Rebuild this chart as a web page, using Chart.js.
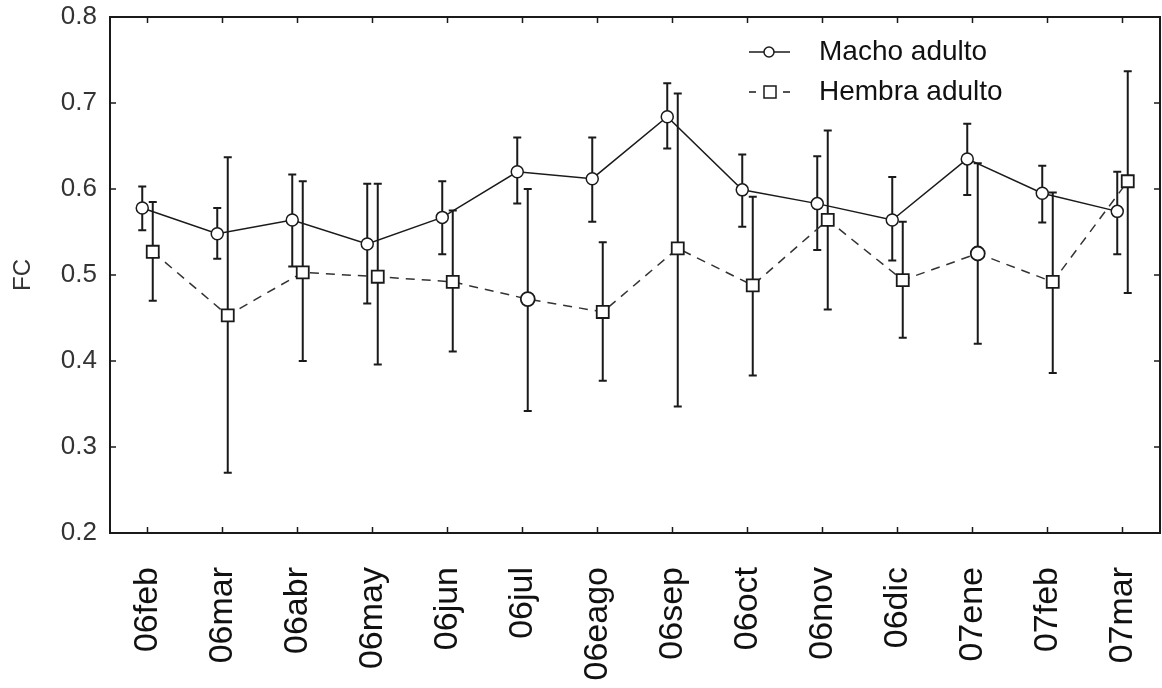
<!DOCTYPE html>
<html>
<head>
<meta charset="utf-8">
<script src="https://cdn.jsdelivr.net/npm/chart.js@4/dist/chart.umd.min.js"></script>
<style>
  html, body { margin: 0; padding: 0; background: #fff; }
</style>
</head>
<body>
<canvas id="fcChart" width="1162" height="688"></canvas>
<script>
// Months sampled
const months = ['06feb', '06mar', '06abr', '06may', '06jun', '06jul', '06eago',
                '06sep', '06oct', '06nov', '06dic', '07ene', '07feb', '07mar'];

// Macho adulto: mean and error bar limits
const machoMean = [0.578, 0.548, 0.564, 0.536, 0.567, 0.620, 0.612, 0.684, 0.599, 0.583, 0.564, 0.635, 0.595, 0.574];
const machoLow  = [0.552, 0.519, 0.510, 0.467, 0.524, 0.583, 0.562, 0.647, 0.556, 0.529, 0.517, 0.593, 0.561, 0.524];
const machoHigh = [0.603, 0.578, 0.617, 0.606, 0.609, 0.660, 0.660, 0.723, 0.640, 0.638, 0.614, 0.676, 0.627, 0.620];

// Hembra adulto: mean and error bar limits
const hembraMean = [0.527, 0.453, 0.503, 0.498, 0.492, 0.472, 0.457, 0.531, 0.488, 0.564, 0.494, 0.525, 0.492, 0.609];
const hembraLow  = [0.470, 0.270, 0.400, 0.396, 0.411, 0.342, 0.377, 0.347, 0.383, 0.460, 0.427, 0.420, 0.386, 0.479];
const hembraHigh = [0.585, 0.637, 0.609, 0.606, 0.575, 0.600, 0.538, 0.711, 0.591, 0.668, 0.562, 0.630, 0.596, 0.737];

const yMin = 0.2, yMax = 0.8, yStep = 0.1;

const INK = '#1a1a1a';
const DODGE = 0.07; // small side shift so the two series don't overlap

// in the original two of the female markers came out round
const hembraShapes = months.map(m => (m === '06jul' || m === '07ene') ? 'circle' : 'rect');

// error bars, drawn under the lines and markers
const errorBars = {
    id: 'errorBars',
    beforeDatasetsDraw(chart) {
        const { ctx, scales: { x, y } } = chart;
        ctx.save();
        ctx.strokeStyle = INK;
        ctx.lineWidth = 2;
        chart.data.datasets.forEach(ds => {
            ds.data.forEach((p, i) => {
                const px = x.getPixelForValue(p.x);
                const top = y.getPixelForValue(ds.hi[i]);
                const bot = y.getPixelForValue(ds.lo[i]);
                ctx.beginPath();
                ctx.moveTo(px, top); ctx.lineTo(px, bot);
                ctx.moveTo(px - 4, top); ctx.lineTo(px + 4, top);
                ctx.moveTo(px - 4, bot); ctx.lineTo(px + 4, bot);
                ctx.stroke();
            });
        });
        ctx.restore();
    }
};

// box around the plot with inward tick marks on all four sides
const frameTicks = {
    id: 'frameTicks',
    afterDraw(chart) {
        const { ctx, chartArea: a, scales: { x, y } } = chart;
        ctx.save();
        ctx.strokeStyle = INK;
        ctx.lineWidth = 2;
        ctx.strokeRect(a.left, a.top, a.right - a.left, a.bottom - a.top);
        ctx.lineWidth = 1.5;
        ctx.beginPath();
        x.ticks.forEach(t => {
            const px = x.getPixelForValue(t.value);
            ctx.moveTo(px, a.bottom); ctx.lineTo(px, a.bottom - 6);
            ctx.moveTo(px, a.top); ctx.lineTo(px, a.top + 6);
        });
        y.ticks.forEach(t => {
            const py = y.getPixelForValue(t.value);
            ctx.moveTo(a.left, py); ctx.lineTo(a.left + 6, py);
            ctx.moveTo(a.right, py); ctx.lineTo(a.right - 6, py);
        });
        ctx.stroke();
        ctx.restore();
    }
};

// legend in the upper right corner of the plot
const cornerLegend = {
    id: 'cornerLegend',
    afterDraw(chart) {
        const { ctx, chartArea: a } = chart;
        const x0 = a.right - 411;
        const rows = [a.top + 35, a.top + 75];
        ctx.save();
        ctx.strokeStyle = INK;
        ctx.fillStyle = '#fff';
        ctx.lineWidth = 1.5;
        // solid line + circle
        ctx.beginPath();
        ctx.moveTo(x0, rows[0]); ctx.lineTo(x0 + 41, rows[0]);
        ctx.stroke();
        ctx.beginPath();
        ctx.arc(x0 + 20, rows[0], 5, 0, Math.PI * 2);
        ctx.fill(); ctx.stroke();
        // dashes + square
        ctx.beginPath();
        ctx.moveTo(x0, rows[1]); ctx.lineTo(x0 + 7, rows[1]);
        ctx.moveTo(x0 + 34, rows[1]); ctx.lineTo(x0 + 41, rows[1]);
        ctx.stroke();
        ctx.fillRect(x0 + 15, rows[1] - 6, 12, 12);
        ctx.strokeRect(x0 + 15, rows[1] - 6, 12, 12);
        // labels
        ctx.fillStyle = '#111';
        ctx.font = '28px "Liberation Sans", Arial, sans-serif';
        ctx.textBaseline = 'middle';
        chart.data.datasets.forEach((ds, i) => ctx.fillText(ds.label, x0 + 70, rows[i]));
        ctx.restore();
    }
};

const ctx = document.getElementById('fcChart').getContext('2d');

new Chart(ctx, {
    type: 'line',
    data: {
        datasets: [{
            label: 'Macho adulto',
            data: machoMean.map((v, i) => ({ x: i - DODGE, y: v })),
            lo: machoLow,
            hi: machoHigh,
            borderColor: INK,
            borderWidth: 1.5,
            pointStyle: 'circle',
            pointRadius: 6,
            pointBackgroundColor: '#fff',
            pointBorderColor: INK,
            pointBorderWidth: 1.5
        }, {
            label: 'Hembra adulto',
            data: hembraMean.map((v, i) => ({ x: i + DODGE, y: v })),
            lo: hembraLow,
            hi: hembraHigh,
            borderColor: '#333',
            borderWidth: 1.5,
            borderDash: [9, 7],
            pointStyle: hembraShapes,
            pointRadius: hembraShapes.map(s => s === 'rect' ? 8.5 : 7),
            pointBackgroundColor: '#fff',
            pointBorderColor: INK,
            pointBorderWidth: 1.8
        }]
    },
    options: {
        responsive: false,
        animation: false,
        layout: { autoPadding: false, padding: { top: 17, right: 2, left: 0, bottom: 0 } },
        plugins: {
            legend: { display: false },
            tooltip: { enabled: false }
        },
        scales: {
            x: {
                type: 'linear',
                min: -0.5,
                max: months.length - 0.5,
                afterBuildTicks: axis => { axis.ticks = months.map((_, i) => ({ value: i })); },
                afterFit: axis => {
                    axis.height = 155;
                    axis.paddingLeft = 0;
                    axis.paddingRight = 0;
                },
                grid: { display: false, drawTicks: false },
                border: { display: false },
                ticks: {
                    autoSkip: false,
                    maxRotation: 90,
                    minRotation: 90,
                    padding: 34,
                    color: '#111',
                    font: { family: '"Liberation Sans", Arial, sans-serif', size: 34 },
                    callback: v => months[v] ?? ''
                }
            },
            y: {
                min: yMin,
                max: yMax,
                afterFit: axis => {
                    axis.width = 110;
                    axis.paddingTop = 0;
                    axis.paddingBottom = 0;
                },
                grid: { display: false, drawTicks: false },
                border: { display: false },
                ticks: {
                    stepSize: yStep,
                    padding: 13,
                    color: '#333',
                    font: { family: '"Liberation Sans", Arial, sans-serif', size: 26 },
                    callback: v => v.toFixed(1)
                },
                title: {
                    display: true,
                    text: 'FC',
                    color: '#333',
                    padding: { top: 9, bottom: 0 },
                    font: { family: '"Liberation Sans", Arial, sans-serif', size: 24 }
                }
            }
        }
    },
    plugins: [errorBars, frameTicks, cornerLegend]
});
</script>
</body>
</html>
